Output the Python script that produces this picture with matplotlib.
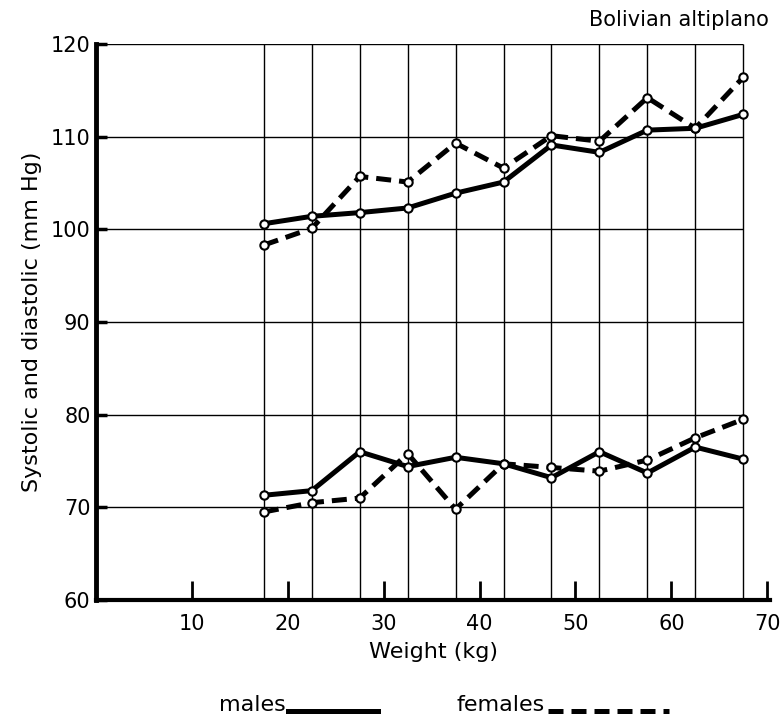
import matplotlib.pyplot as plt
from matplotlib.lines import Line2D

# Datos
peso = [17.5, 22.5, 27.5, 32.5, 37.5, 42.5, 47.5, 52.5, 57.5, 62.5, 67.5]
sist_hombres = [100.6, 101.4, 101.8, 102.3, 103.9, 105.1, 109.1, 108.3, 110.7, 110.9, 112.4]
sist_mujeres = [98.3, 100.1, 105.7, 105.1, 109.3, 106.6, 110.1, 109.5, 114.2, 110.9, 116.4]
diast_hombres = [71.3, 71.8, 76.0, 74.4, 75.4, 74.7, 73.2, 76.0, 73.7, 76.5, 75.2]
diast_mujeres = [69.5, 70.5, 71.0, 75.8, 69.8, 74.7, 74.3, 73.9, 75.1, 77.5, 79.5]
yticks = [60, 70, 80, 90, 100, 110, 120]
xticks = [10, 20, 30, 40, 50, 60, 70]

plt.rcParams['font.family'] = ['DejaVu Sans']
fig = plt.figure(figsize=(7.81, 7.25), dpi=100)
ax = fig.add_axes([0.123, 0.1724, 0.863, 0.767])

# Rejilla
ax.vlines(peso, 60, 120, color="black", linewidth=1.0, zorder=1)
ax.hlines(yticks[1:], 0, peso[-1], color="black", linewidth=1.0, zorder=1)

discontinua = (0, (3, 1.6))
estilo_h = dict(color="black", linewidth=3.6, linestyle="-", marker="o", markersize=6,
                markerfacecolor="white", markeredgecolor="black", markeredgewidth=1.5, zorder=3)
estilo_m = dict(color="black", linewidth=3.6, linestyle=discontinua, marker="o", markersize=6,
                markerfacecolor="white", markeredgecolor="black", markeredgewidth=1.5, zorder=3)

ax.plot(peso, sist_hombres, **estilo_h)
ax.plot(peso, diast_hombres, **estilo_h)
ax.plot(peso, sist_mujeres, **estilo_m)
ax.plot(peso, diast_mujeres, **estilo_m)

ax.set_xlim(0, 70.3)
ax.set_ylim(60, 120)
ax.set_xticks(xticks)
ax.set_yticks(yticks)
ax.tick_params(axis="x", direction="in", length=14, width=2, labelsize=15, pad=10)
ax.tick_params(axis="y", direction="in", length=8, width=2.5, labelsize=15, pad=4)
ax.spines["top"].set_visible(False)
ax.spines["right"].set_visible(False)
ax.spines["left"].set_linewidth(3.5)
ax.spines["bottom"].set_linewidth(3)

ax.set_xlabel("Weight (kg)", fontsize=16, labelpad=6)
ax.set_ylabel("Systolic and diastolic (mm Hg)", fontsize=16, labelpad=6)
fig.text(0.985, 0.972, "Bolivian altiplano", fontsize=15, ha="right", va="center")

# Leyenda
fig.text(0.366, 0.028, "males", fontsize=16, ha="right", va="center")
fig.add_artist(Line2D([0.369, 0.484], [0.019, 0.019], color="black", linewidth=3.6))
fig.text(0.698, 0.028, "females", fontsize=16, ha="right", va="center")
fig.add_artist(Line2D([0.702, 0.856], [0.019, 0.019], color="black", linewidth=3.6,
                      linestyle=discontinua))

plt.savefig("out.png", dpi=100)
